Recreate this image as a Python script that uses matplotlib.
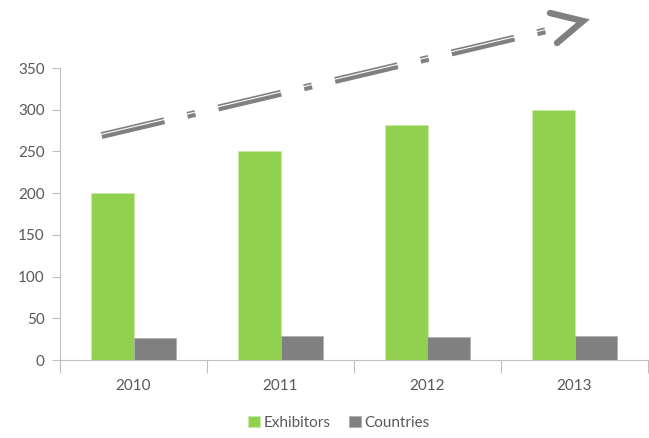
import matplotlib
matplotlib.use("Agg")
import matplotlib.pyplot as plt
import numpy as np

plt.rcParams['font.family'] = ['Lato', 'DejaVu Sans']
plt.rcParams['lines.scale_dashes'] = False

# data
years = ["2010", "2011", "2012", "2013"]
exhibitors = [200, 250, 282, 300]
countries = [26, 29, 27, 29]
yticks = [0, 50, 100, 150, 200, 250, 300, 350]

GREEN = "#92D050"
GREY = "#808080"
AXIS = "#BFBFBF"
TEXT = "#595959"

W, H = 649, 438
fig = plt.figure(figsize=(W / 100, H / 100), dpi=100)
ax = fig.add_axes([60 / W, 78 / H, 588 / W, 292 / H])

x = np.arange(len(years))
bw = 0.286
ax.bar(x - bw / 2, exhibitors, bw, color=GREEN, edgecolor="#C8EBA8", linewidth=0.6, label="Exhibitors")
ax.bar(x + bw / 2, countries, bw, color=GREY, edgecolor="#B0B0B0", linewidth=0.6, label="Countries")

ax.set_xlim(-0.5, len(years) - 0.5)
ax.set_ylim(0, 350)
ax.set_yticks(yticks)
ax.set_yticklabels([str(v) for v in yticks], fontsize=11, color=TEXT)

# category labels centred, ticks on the boundaries
ax.set_xticks(np.arange(len(years) + 1) - 0.5)
ax.set_xticklabels([])
ax.set_xticks(x, minor=True)
ax.set_xticklabels(years, minor=True, fontsize=11, color=TEXT)
ax.tick_params(axis="x", which="major", length=9, color=AXIS, width=0.8)
ax.tick_params(axis="x", which="minor", length=0, pad=14)
ax.tick_params(axis="y", length=6, color=AXIS, width=0.8, pad=5)

for s in ["top", "right"]:
    ax.spines[s].set_visible(False)
for s in ["left", "bottom"]:
    ax.spines[s].set_color(AXIS)
    ax.spines[s].set_linewidth(0.8)

fig.legend(loc="center", bbox_to_anchor=(339 / W, 1 - 423 / H), ncol=2, frameon=False,
           fontsize=11, handlelength=0.75, handleheight=0.75, handletextpad=0.25,
           columnspacing=1.2, labelcolor=TEXT)

# decorative trend arrow, drawn in pixel space on an overlay
ov = fig.add_axes([0, 0, 1, 1])
ov.set_xlim(0, W)
ov.set_ylim(H, 0)
ov.axis("off")

start = np.array([101.0, 133.0])
end = np.array([546.0, 28.0])
d = (end - start) / np.linalg.norm(end - start)
n = np.array([-d[1], d[0]])
if n[1] < 0:
    n = -n
pattern = (46.4, 17.0, 5.9, 17.0)
ov.plot([start[0], end[0]], [start[1], end[1]], color=GREY, lw=1.2,
        dashes=pattern, dash_capstyle="butt")
lo = start + n * 4.0
le = end + n * 4.0
ov.plot([lo[0], le[0]], [lo[1], le[1]], color=GREY, lw=3.0,
        dashes=pattern, dash_capstyle="butt")

chev_x = [557, 583, 550]
chev_y = [43, 21, 13]
ov.plot(chev_x, chev_y, color=GREY, lw=4.6, solid_capstyle="round", solid_joinstyle="miter")

fig.savefig("out.png", dpi=100)
